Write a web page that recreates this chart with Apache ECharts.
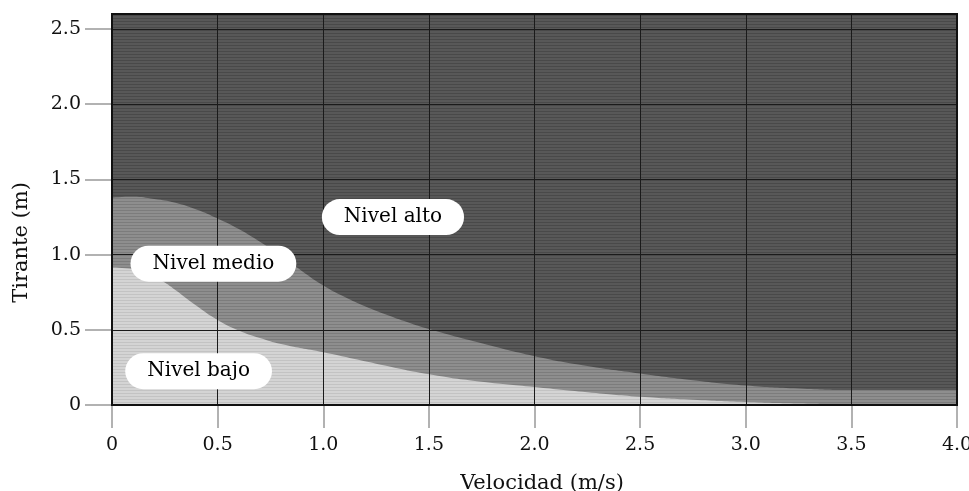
<!DOCTYPE html>
<html>
<head>
<meta charset="utf-8">
<script src="https://cdn.jsdelivr.net/npm/echarts@6/dist/echarts.min.js"></script>
<style>
html,body{margin:0;padding:0;background:#fff;}
#c{width:969px;height:491px;}
</style>
</head>
<body>
<div id="c"></div>
<script>
// ---- data ----
const xTicks = [0, 0.5, 1.0, 1.5, 2.0, 2.5, 3.0, 3.5, 4.0];
const xTickLabels = ['0', '0.5', '1.0', '1.5', '2.0', '2.5', '3.0', '3.5', '4.0'];
const yTicks = [0, 0.5, 1.0, 1.5, 2.0, 2.5];
const yTickLabels = ['0', '0.5', '1.0', '1.5', '2.0', '2.5'];

const velAlto = [0, 4.0];
const tirAlto = [2.6, 2.6];

const velMedio = [0, 0.1, 0.2, 0.3, 0.4, 0.5, 0.6, 0.7, 0.8, 0.9, 1.0, 1.1, 1.2, 1.3, 1.4, 1.5, 1.75, 2.0, 2.25, 2.5, 2.75, 3.0, 3.25, 3.5, 3.75, 4.0];
const tirMedio = [1.38, 1.385, 1.37, 1.345, 1.30, 1.24, 1.17, 1.085, 0.99, 0.89, 0.795, 0.72, 0.655, 0.60, 0.55, 0.505, 0.41, 0.325, 0.26, 0.21, 0.165, 0.13, 0.11, 0.10, 0.10, 0.10];

const velBajo = [0, 0.1, 0.15, 0.2, 0.25, 0.3, 0.4, 0.5, 0.6, 0.7, 0.8, 1.0, 1.25, 1.5, 1.75, 2.0, 2.25, 2.5, 2.75, 3.0, 3.25, 3.5, 4.0];
const tirBajo = [0.915, 0.905, 0.885, 0.855, 0.815, 0.765, 0.66, 0.565, 0.495, 0.445, 0.405, 0.35, 0.275, 0.205, 0.155, 0.12, 0.085, 0.055, 0.035, 0.02, 0.01, 0.005, 0];

const zoneNames = ['Nivel alto', 'Nivel medio', 'Nivel bajo'];
const zoneLabelVel = [1.33, 0.48, 0.41];
const zoneLabelTir = [1.25, 0.94, 0.225];

// ---- textures ----
function stripes(base, line, period, lw) {
  const c = document.createElement('canvas');
  c.width = 8; c.height = period;
  const ctx = c.getContext('2d');
  ctx.fillStyle = base; ctx.fillRect(0, 0, 8, period);
  ctx.fillStyle = line; ctx.fillRect(0, 0, 8, lw);
  return c;
}
const texAlto = stripes('#585858', '#494949', 3, 1);
const texMedio = stripes('#8e8e8e', '#7c7c7c', 3, 1);
const texBajo = stripes('#d4d4d4', '#c3c3c3', 3, 1);

function pairs(xs, ys) { return xs.map((x, i) => [x, ys[i]]); }

const font = 'DejaVu Serif';

function areaSeries(name, xs, ys, tex) {
  return {
    name: name,
    type: 'line',
    data: pairs(xs, ys),
    smooth: 0.5,
    showSymbol: false,
    symbol: 'none',
    lineStyle: { width: 0 },
    areaStyle: { color: { image: tex, repeat: 'repeat' }, opacity: 1 },
    silent: true,
    z: 2
  };
}

const chart = echarts.init(document.getElementById('c'), null, { renderer: 'canvas' });
chart.setOption({
  animation: false,
  backgroundColor: '#fff',
  grid: {
    left: 112, right: 12, top: 14, bottom: 86,
    outerBoundsMode: 'none', containLabel: false,
    show: true, borderColor: '#111', borderWidth: 2, backgroundColor: 'transparent',
    z: 8
  },
  xAxis: {
    type: 'value', min: 0, max: 4, interval: 0.5, z: 5,
    name: 'Velocidad (m/s)', nameLocation: 'middle', nameGap: 68,
    nameTextStyle: { fontFamily: font, fontSize: 21, color: '#111', padding: [0, 0, 0, 15] },
    axisLine: { show: true, lineStyle: { color: '#111', width: 2 } },
    axisTick: { show: true, length: 23, lineStyle: { color: '#999', width: 1.5 }, customValues: xTicks },
    axisLabel: {
      show: true, margin: 31, fontFamily: font, fontSize: 19, color: '#111',
      customValues: xTicks,
      formatter: v => xTickLabels[xTicks.findIndex(t => Math.abs(t - v) < 1e-6)]
    },
    splitLine: { show: true, lineStyle: { color: '#1a1a1a', width: 1 } }
  },
  yAxis: {
    type: 'value', min: 0, max: 2.6, interval: 0.5, z: 5,
    name: 'Tirante (m)', nameLocation: 'middle', nameGap: 80,
    nameTextStyle: { fontFamily: font, fontSize: 21, color: '#111', padding: [0, 66, 0, 0] },
    axisLine: { show: true, lineStyle: { color: '#111', width: 2 } },
    axisTick: { show: true, length: 27, lineStyle: { color: '#999', width: 1.5 }, customValues: yTicks },
    axisLabel: {
      show: true, margin: 31, fontFamily: font, fontSize: 19, color: '#111',
      customValues: yTicks,
      formatter: v => yTickLabels[yTicks.findIndex(t => Math.abs(t - v) < 1e-6)]
    },
    splitLine: { show: true, lineStyle: { color: '#1a1a1a', width: 1 } }
  },
  series: [
    areaSeries('alto', velAlto, tirAlto, texAlto),
    areaSeries('medio', velMedio, tirMedio, texMedio),
    areaSeries('bajo', velBajo, tirBajo, texBajo),
    {
      type: 'scatter',
      z: 10,
      symbol: 'circle',
      symbolSize: 1,
      itemStyle: { color: '#ffffff', opacity: 1 },
      silent: true,
      data: zoneNames.map((n, i) => ({ value: [zoneLabelVel[i], zoneLabelTir[i]], name: n })),
      label: {
        show: true, position: 'inside', opacity: 1,
        formatter: p => p.name,
        fontFamily: font, fontSize: 20, color: '#000',
        backgroundColor: '#ffffff', borderRadius: 18,
        padding: [8, 22, 8, 22]
      }
    }
  ]
});
</script>
</body>
</html>
